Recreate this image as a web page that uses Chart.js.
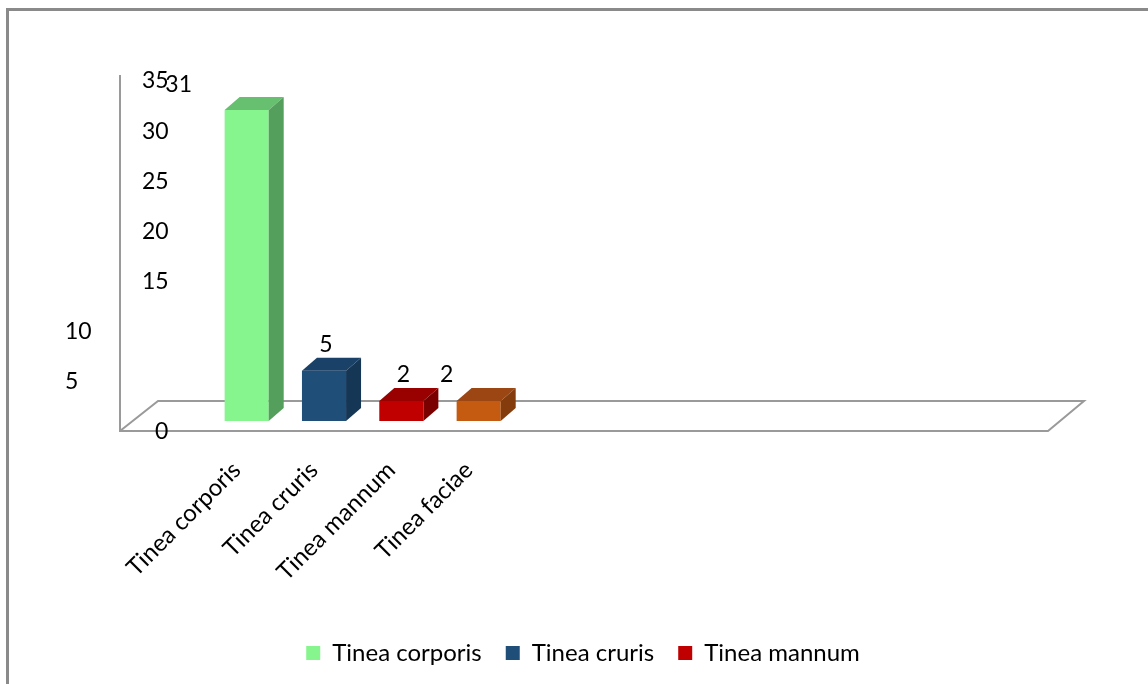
<!DOCTYPE html>
<html>
<head>
<meta charset="utf-8">
<script src="https://cdn.jsdelivr.net/npm/chart.js@4.4.0/dist/chart.umd.min.js"></script>
<style>
  html, body { margin: 0; padding: 0; background: #fff; overflow: hidden; }
  #wrap { width: 1148px; height: 684px; position: relative; }
</style>
</head>
<body>
<div id="wrap"><canvas id="chart"></canvas></div>
<script>
// data
const categories = ['Tinea corporis', 'Tinea cruris', 'Tinea mannum', 'Tinea faciae'];
const cases = [31, 5, 2, 2];
const yTicks = [0, 5, 10, 15, 20, 25, 30, 35];
const emptySlots = 8; // the floor keeps going to the right with no bars

const frontColors = ['#86f58e', '#1f4e79', '#c00000', '#c55a11'];
const topColors = ['#66c06f', '#1a4269', '#990000', '#9b4613'];
const sideColors = ['#559f5c', '#163656', '#7a0000', '#843c0c'];

const FONT = 'Lato';
const DX = 15, DY = 13; // fake depth of the 3d bars

// grey frame round the picture (only top and left show)
const framePlugin = {
  id: 'frame',
  beforeDraw(chart) {
    const ctx = chart.ctx;
    ctx.save();
    ctx.strokeStyle = '#8a8a8a';
    ctx.lineWidth = 3;
    ctx.beginPath();
    ctx.moveTo(7.5, chart.height);
    ctx.lineTo(7.5, 9.5);
    ctx.lineTo(chart.width, 9.5);
    ctx.stroke();
    ctx.restore();
  }
};

// floor, wall line and the top/side faces of the bars
const box3dPlugin = {
  id: 'box3d',
  beforeDatasetsDraw(chart) {
    const {ctx, chartArea: a, scales: {y}} = chart;
    const base = y.getPixelForValue(0);
    const fl = a.left - 88, fr = a.right - 88, fy = base + 10;
    const bl = a.left - 50, br = a.right - 52, by = base - 20;
    ctx.save();
    ctx.strokeStyle = '#9a9a9a';
    ctx.lineWidth = 2;
    ctx.beginPath();
    ctx.moveTo(fl, y.getPixelForValue(35) + 5);
    ctx.lineTo(fl, fy);
    ctx.lineTo(fr, fy);
    ctx.lineTo(br, by);
    ctx.lineTo(bl, by);
    ctx.lineTo(fl, fy);
    ctx.stroke();
    ctx.restore();
  },
  afterDatasetsDraw(chart) {
    const ctx = chart.ctx;
    chart.getDatasetMeta(0).data.forEach((bar, i) => {
      if (cases[i] == null) return;
      const l = bar.x - bar.width / 2, r = bar.x + bar.width / 2;
      const t = bar.y, b = bar.base;
      ctx.save();
      ctx.fillStyle = topColors[i];
      ctx.beginPath();
      ctx.moveTo(l, t);
      ctx.lineTo(l + DX, t - DY);
      ctx.lineTo(r + DX, t - DY);
      ctx.lineTo(r, t);
      ctx.closePath();
      ctx.fill();
      ctx.fillStyle = sideColors[i];
      ctx.beginPath();
      ctx.moveTo(r, t);
      ctx.lineTo(r + DX, t - DY);
      ctx.lineTo(r + DX, b - DY);
      ctx.lineTo(r, b);
      ctx.closePath();
      ctx.fill();
      ctx.restore();
    });
  }
};

// y tick labels and value labels, placed loosely like in the source
const textPlugin = {
  id: 'texts',
  afterDraw(chart) {
    const {ctx, chartArea: a, scales: {y}} = chart;
    ctx.save();
    ctx.fillStyle = '#000';
    ctx.font = '23px ' + FONT;
    ctx.textBaseline = 'middle';
    ctx.textAlign = 'left';
    yTicks.forEach(v => {
      let x = a.left - 66;
      if (v === 5 || v === 10) x = a.left - 143;
      if (v === 0) x = a.left - 53;
      ctx.fillText(String(v), x, y.getPixelForValue(v) + 11);
    });
    const shift = [-68, 2, 2, -32];
    ctx.textAlign = 'center';
    chart.getDatasetMeta(0).data.forEach((bar, i) => {
      if (cases[i] == null) return;
      ctx.fillText(String(cases[i]), bar.x + shift[i], bar.y - 26);
    });
    ctx.restore();
  }
};

function draw() {
  new Chart(document.getElementById('chart'), {
    type: 'bar',
    data: {
      labels: categories.concat(Array(emptySlots).fill('')),
      datasets: [{
        label: 'Cases',
        data: cases,
        backgroundColor: frontColors,
        barPercentage: 0.57,
        categoryPercentage: 1
      }]
    },
    options: {
      responsive: true,
      maintainAspectRatio: false,
      animation: false,
      layout: { padding: { left: 30, right: 12, top: 70, bottom: 9 } },
      plugins: {
        legend: {
          position: 'bottom',
          labels: {
            boxWidth: 14, boxHeight: 14, padding: 24, color: '#000',
            font: { family: FONT, size: 24 },
            generateLabels: function(chart) {
              // the source legend only lists the first three
              return categories.slice(0, 3).map((c, i) => ({
                text: c, fillStyle: frontColors[i], strokeStyle: frontColors[i],
                lineWidth: 0, hidden: false, index: i, fontColor: '#000'
              }));
            }
          }
        },
        tooltip: { enabled: false }
      },
      scales: {
        x: {
          grid: { display: false },
          border: { display: false },
          ticks: {
            color: '#000', font: { family: FONT, size: 24 },
            minRotation: 45, maxRotation: 45, autoSkip: false,
            padding: 27, labelOffset: -10
          },
          afterFit: function(s) { s.height = 196; }
        },
        y: {
          min: 0, max: 35,
          ticks: { display: false },
          grid: { display: false },
          border: { display: false },
          afterFit: function(s) { s.width = 178; }
        }
      }
    },
    plugins: [framePlugin, box3dPlugin, textPlugin]
  });
}

if (document.fonts && document.fonts.load) {
  Promise.all([document.fonts.load('24px ' + FONT), document.fonts.load('23px ' + FONT)]).then(draw, draw);
} else {
  draw();
}
</script>
</body>
</html>
